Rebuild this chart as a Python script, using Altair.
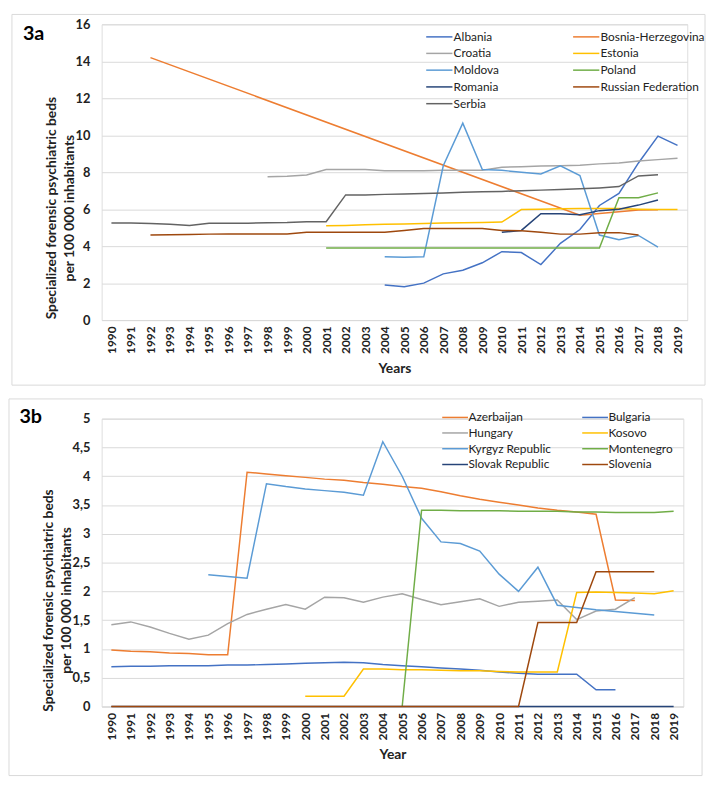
import altair as alt
import pandas as pd

YEARS = list(range(1990, 2020))
FONT = "Lato"

# ---------------- Panel 3a ----------------
A_NAMES = ["Albania", "Bosnia-Herzegovina", "Croatia", "Estonia", "Moldova",
           "Poland", "Romania", "Russian Federation", "Serbia"]
A_COLORS = ["#4472C4", "#ED7D31", "#A5A5A5", "#FFC000", "#5B9BD5",
            "#70AD47", "#264478", "#9E480E", "#636363"]

albania_years = list(range(2004, 2020))
albania = [1.9, 1.8, 2.0, 2.5, 2.7, 3.1, 3.7, 3.65, 3.0, 4.15, 4.9, 6.2, 6.85, 8.5, 9.95, 9.45]
bosnia_years = [1992, 2014, 2015, 2016, 2017, 2018]
bosnia = [14.2, 5.67, 5.76, 5.86, 5.95, 5.97]
croatia_years = list(range(1998, 2020))
croatia = [7.75, 7.78, 7.85, 8.15, 8.15, 8.15, 8.08, 8.08, 8.08, 8.1, 8.1, 8.1,
           8.27, 8.3, 8.33, 8.35, 8.38, 8.45, 8.5, 8.6, 8.68, 8.75]
estonia_years = list(range(2001, 2020))
estonia = [5.1, 5.12, 5.16, 5.18, 5.2, 5.23, 5.25, 5.26, 5.28, 5.3, 5.98, 6.0,
           6.02, 6.03, 6.03, 6.03, 6.0, 5.98, 5.98]
moldova_years = list(range(2004, 2019))
moldova = [3.43, 3.4, 3.42, 8.35, 10.65, 8.15, 8.1, 8.0, 7.9, 8.35, 7.82, 4.6, 4.35, 4.58, 3.95]
poland_years = list(range(2001, 2019))
poland = [3.9, 3.9, 3.9, 3.9, 3.9, 3.9, 3.9, 3.9, 3.9, 3.9, 3.9, 3.9, 3.9, 3.9, 3.9,
          6.62, 6.62, 6.88]
romania_years = list(range(2010, 2019))
romania = [4.75, 4.85, 5.75, 5.75, 5.7, 5.92, 6.0, 6.22, 6.5]
russia_years = list(range(1992, 2018))
russia = [4.6, 4.62, 4.63, 4.65, 4.66, 4.66, 4.66, 4.66, 4.75, 4.75, 4.75, 4.75, 4.75,
          4.85, 4.95, 4.95, 4.95, 4.95, 4.85, 4.83, 4.75, 4.65, 4.65, 4.72, 4.73, 4.6]
serbia_years = list(range(1990, 2019))
serbia = [5.25, 5.25, 5.22, 5.18, 5.12, 5.24, 5.24, 5.24, 5.27, 5.28, 5.32, 5.32,
          6.77, 6.77, 6.8, 6.82, 6.85, 6.88, 6.91, 6.94, 6.96, 7.0, 7.03, 7.06,
          7.1, 7.15, 7.22, 7.8, 7.86]

# ---------------- Panel 3b ----------------
B_NAMES = ["Azerbaijan", "Bulgaria", "Hungary", "Kosovo", "Kyrgyz Republic",
           "Montenegro", "Slovak Republic", "Slovenia"]
B_COLORS = ["#ED7D31", "#4472C4", "#A5A5A5", "#FFC000", "#5B9BD5",
            "#70AD47", "#264478", "#9E480E"]

azerbaijan_years = list(range(1990, 2018))
azerbaijan = [0.98, 0.96, 0.95, 0.93, 0.92, 0.9, 0.9, 4.07, 4.04, 4.01, 3.98, 3.95,
              3.93, 3.89, 3.86, 3.82, 3.79, 3.73, 3.66, 3.6, 3.55, 3.5, 3.45, 3.41,
              3.38, 3.34, 1.85, 1.84]
bulgaria_years = list(range(1990, 2017))
bulgaria = [0.69, 0.7, 0.7, 0.71, 0.71, 0.71, 0.72, 0.72, 0.73, 0.74, 0.75, 0.76,
            0.77, 0.76, 0.73, 0.71, 0.69, 0.67, 0.65, 0.63, 0.6, 0.58, 0.56, 0.56,
            0.56, 0.29, 0.29]
hungary_years = list(range(1990, 2018))
hungary = [1.42, 1.47, 1.38, 1.27, 1.17, 1.24, 1.44, 1.6, 1.69, 1.77, 1.69, 1.9,
           1.89, 1.81, 1.9, 1.96, 1.86, 1.77, 1.82, 1.87, 1.74, 1.81, 1.83, 1.85,
           1.51, 1.66, 1.69, 1.89]
kosovo_years = list(range(2000, 2020))
kosovo = [0.18, 0.18, 0.18, 0.65, 0.65, 0.64, 0.64, 0.63, 0.62, 0.62, 0.61, 0.6,
          0.6, 0.6, 1.98, 1.99, 1.98, 1.97, 1.96, 2.01]
kyrgyz_years = list(range(1995, 2019))
kyrgyz = [2.29, 2.26, 2.23, 3.87, 3.82, 3.78, 3.75, 3.72, 3.67, 4.6, 4.0, 3.27,
          2.86, 2.83, 2.7, 2.3, 2.0, 2.42, 1.76, 1.72, 1.68, 1.65, 1.62, 1.59]
montenegro_years = list(range(2005, 2020))
montenegro = [0.0, 3.41, 3.41, 3.4, 3.4, 3.4, 3.39, 3.39, 3.39, 3.38, 3.38, 3.37,
              3.37, 3.37, 3.39]
slovak_years = list(range(1990, 2020))
slovak = [0.0] * 30
slovenia_years = list(range(1990, 2019))
slovenia = [0.0] * 22 + [1.46, 1.46, 1.46, 2.34, 2.34, 2.34, 2.34]

A_SERIES = [albania, bosnia, croatia, estonia, moldova, poland, romania, russia, serbia]
A_YEARS = [albania_years, bosnia_years, croatia_years, estonia_years, moldova_years,
           poland_years, romania_years, russia_years, serbia_years]
B_SERIES = [azerbaijan, bulgaria, hungary, kosovo, kyrgyz, montenegro, slovak, slovenia]
B_YEARS = [azerbaijan_years, bulgaria_years, hungary_years, kosovo_years, kyrgyz_years,
           montenegro_years, slovak_years, slovenia_years]

YTITLE = ["Specialized forensic psychiatric beds", "per 100 000 inhabitants"]


def long_df(names, years_list, series_list):
    rows = []
    for i, (n, ys, vs) in enumerate(zip(names, years_list, series_list)):
        for y, v in zip(ys, vs):
            rows.append({"country": n, "year": y, "value": v, "ord": i})
    return pd.DataFrame(rows)


def panel(df, names, colors, label, xtitle, ydomain, yticks, ylabel_expr,
          w, h, frame, label_pos, title_x, title_dy, legend_x, legend_y, col_pad,
          sym_path, sym_size):
    one = pd.DataFrame({"k": [0]})
    fr = alt.Chart(one).mark_rect(filled=False, stroke="#D9D9D9", strokeWidth=1).encode(
        x=alt.value(frame[0]), x2=alt.value(frame[1]),
        y=alt.value(frame[2]), y2=alt.value(frame[3]))
    lab = alt.Chart(one).mark_text(text=label, font=FONT, fontSize=20,
                                   fontWeight="bold", color="#000000").encode(
        x=alt.value(label_pos[0]), y=alt.value(label_pos[1]))
    lines = alt.Chart(df).mark_line(strokeWidth=1.5).encode(
        x=alt.X("year:Q", scale=alt.Scale(domain=[1989.5, 2019.5], nice=False, zero=False),
                axis=alt.Axis(title=xtitle, values=YEARS, format="d", labelAngle=270,
                              grid=False, ticks=False, domain=True, domainColor="#D9D9D9",
                              labelFont=FONT, labelFontSize=12, labelFontWeight="bold",
                              labelColor="#222222", labelPadding=6,
                              titleFont=FONT, titleFontSize=14, titleFontWeight="bold",
                              titleColor="#222222", titleBaseline="middle", titleY=49)),
        y=alt.Y("value:Q", scale=alt.Scale(domain=ydomain, nice=False),
                axis=alt.Axis(title=YTITLE, values=yticks, labelExpr=ylabel_expr,
                              grid=True, gridColor="#D9D9D9", gridWidth=1,
                              ticks=False, domain=False,
                              labelFont=FONT, labelFontSize=13, labelFontWeight="bold",
                              labelColor="#222222", labelPadding=12,
                              titleFont=FONT, titleFontSize=14, titleFontWeight="bold",
                              titleColor="#222222", titleAngle=270, titleAlign="center",
                              titleBaseline="bottom", titleLineHeight=18,
                              titleX=title_x, titleY=h / 2 + title_dy)),
        color=alt.Color("country:N", sort=names,
                        scale=alt.Scale(domain=names, range=colors),
                        legend=alt.Legend(title=None, orient="none", legendX=legend_x,
                                          legendY=legend_y, columns=2, direction="horizontal",
                                          symbolType=sym_path,
                                          symbolSize=sym_size, symbolStrokeWidth=1.5,
                                          labelFont=FONT, labelFontSize=12,
                                          labelColor="#222222", labelOffset=4,
                                          columnPadding=col_pad, rowPadding=0,
                                          gridAlign="all", padding=0, labelLimit=200)),
        order=alt.Order("ord:Q"),
    )
    return alt.layer(fr, lab, lines).properties(width=w, height=h)


dfa = long_df(A_NAMES, A_YEARS, A_SERIES)
dfb = long_df(B_NAMES, B_YEARS, B_SERIES)

top = panel(dfa, A_NAMES, A_COLORS, "3a", "Years", [0, 16], list(range(0, 17, 2)),
            "format(datum.value, 'd')", 594, 300,
            frame=(-91, 612, -10, 366), label_pos=(-69, 10), title_x=-44, title_dy=36,
            legend_x=332, legend_y=2, col_pad=12,
            sym_path="M-1.4,0L1.4,0", sym_size=361)

bottom = panel(dfb, B_NAMES, B_COLORS, "3b", "Year", [0, 5],
               [0, 0.5, 1, 1.5, 2, 2.5, 3, 3.5, 4, 4.5, 5],
               "replace(format(datum.value, '~g'), '.', ',')", 590, 292,
               frame=(-94, 609, -20, 362), label_pos=(-72, -2), title_x=-47, title_dy=38,
               legend_x=349, legend_y=-11, col_pad=28,
               sym_path="M-1.5,0L1.5,0", sym_size=303)

chart = alt.vconcat(top, bottom, spacing=12).resolve_scale(
    color="independent", x="independent", y="independent"
).resolve_legend(color="independent").properties(padding=0).configure_view(
    stroke=None
).configure(background="#FFFFFF")

chart.save("out.html", embed_options={"renderer": "svg", "actions": False})
